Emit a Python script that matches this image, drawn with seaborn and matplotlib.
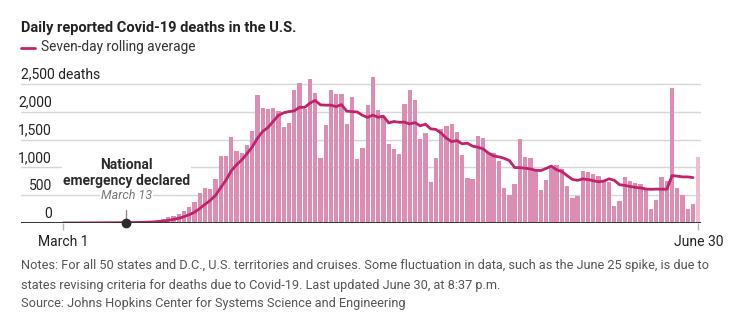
import matplotlib
matplotlib.use("Agg")
import matplotlib.pyplot as plt
import matplotlib.transforms as mtransforms
from matplotlib.lines import Line2D
from matplotlib import font_manager
import seaborn as sns
import numpy as np
import pandas as pd

# ---------------- data ----------------
day_index = list(range(122))  # 0 = March 1, 121 = June 30
daily_deaths = [
    1, 1, 2, 3, 3, 4, 5, 6, 5, 7,
    8, 9, 10, 12, 15, 20, 25, 40, 55, 80,
    100, 130, 170, 220, 290, 370, 540, 635, 620, 800,
    1210, 1210, 1555, 1290, 1255, 1405, 1655, 2300, 2075, 2045,
    2065, 2008, 1735, 1797, 2392, 2515, 2056, 2590, 2344, 1178,
    1764, 2388, 2328, 2317, 1776, 2265, 1145, 1340, 2125, 2620,
    2038, 1915, 1418, 1322, 1241, 2148, 2386, 2211, 1508, 1625,
    735, 1165, 1690, 1745, 1780, 1635, 1220, 810, 790, 1565,
    1525, 1265, 1260, 1110, 630, 500, 697, 1505, 1193, 1172,
    935, 600, 770, 990, 1036, 965, 673, 450, 490, 943,
    916, 883, 838, 760, 730, 300, 390, 835, 750, 718,
    694, 595, 258, 420, 823, 751, 2422, 631, 498, 258,
    336, 1180,
]
rolling_avg = [
    1, 1, 1.3, 1.8, 2, 2.3, 2.7, 3.4, 4, 4.7,
    5.4, 6.3, 7.1, 8.1, 9.4, 11.6, 14.1, 18.7, 25.3, 35.3,
    47.9, 64.3, 85.7, 113.6, 149.3, 194.3, 260, 336.4, 406.4, 496.4,
    637.9, 769.3, 938.6, 1045.7, 1134.3, 1246.4, 1368.6, 1524.3, 1647.9, 1717.9,
    1828.6, 1936.1, 1983.3, 2003.6, 2016.7, 2079.6, 2081.1, 2156.1, 2204.1, 2124.6,
    2119.9, 2119.3, 2092.6, 2129.9, 2013.6, 2002.3, 1997.6, 1937, 1899.4, 1941.1,
    1901.3, 1921.1, 1800.1, 1825.4, 1811.3, 1814.6, 1781.1, 1805.9, 1747.7, 1777.3,
    1693.4, 1682.6, 1617.1, 1525.6, 1464, 1482.1, 1424.3, 1435, 1381.4, 1363.6,
    1332.1, 1258.6, 1205, 1189.3, 1163.6, 1122.1, 998.1, 995.3, 985, 972.4,
    947.4, 943.1, 981.7, 1023.6, 956.6, 924, 852.7, 783.4, 767.7, 792.4,
    781.9, 760, 741.9, 754.3, 794.3, 767.1, 688.1, 676.6, 657.6, 640.4,
    631, 611.7, 605.7, 610, 608.3, 608.4, 851.9, 842.9, 829, 829,
    817,
]
y_ticks = [0, 500, 1000, 1500, 2000, 2500]
y_tick_labels = ["0", "500", "1,000", "1,500", "2,000", "2,500 deaths"]
x_tick_days = [0, 121]
x_tick_labels = ["March 1", "June 30"]
event_day = 12
event_title = "National\nemergency declared"
event_date = "March 13"

title = "Daily reported Covid-19 deaths in the U.S."
legend_label = "Seven-day rolling average"
notes = [
    "Notes: For all 50 states and D.C., U.S. territories and cruises. Some fluctuation in data, such as the June 25 spike, is due to",
    "states revising criteria for deaths due to Covid-19. Last updated June 30, at 8:37 p.m.",
    "Source: Johns Hopkins Center for Systems Science and Engineering",
]

# ---------------- style ----------------
sns.set_theme(style="white")
names = {f.name for f in font_manager.fontManager.ttflist}
main_font = "Liberation Sans Narrow" if "Liberation Sans Narrow" in names else "Roboto"
plt.rcParams["font.family"] = [main_font, "DejaVu Sans"]

BAR = "#db8db3"
BAR_LAST = "#edbdd3"
LINE = "#c2216e"
GRID = "#d6d6d6"
TXT = "#222222"

W, H = 731, 322
fig = plt.figure(figsize=(W / 100, H / 100), dpi=100)

px_per_day = 5.248
x0_px, x1_px = 21, 701
day0_px = 63.3
base_px = 223.0
px_per_unit = 139.0 / 2500
ytop = 2700
ax_h_px = ytop * px_per_unit
ax = fig.add_axes([x0_px / W, (H - base_px) / H, (x1_px - x0_px) / W, ax_h_px / H])

df = pd.DataFrame({"day": day_index, "deaths": daily_deaths})
sns.barplot(data=df, x="day", y="deaths", color=BAR, saturation=1, width=0.82,
            linewidth=0, ax=ax, zorder=2)
ax.patches[-1].set_facecolor(BAR_LAST)

line_df = pd.DataFrame({"day": day_index[:len(rolling_avg)], "avg": rolling_avg})
sns.lineplot(data=line_df, x="day", y="avg", color=LINE, linewidth=2, ax=ax, zorder=4)

xl = -(day0_px - x0_px) / px_per_day
xr = 121 + (x1_px - (day0_px + 121 * px_per_day)) / px_per_day
ax.set_xlim(xl, xr)
ax.set_ylim(0, ytop)
for s in ax.spines.values():
    s.set_visible(False)
ax.set_xlabel("")
ax.set_ylabel("")
ax.set_yticks([])
for v in y_ticks[1:]:
    ax.axhline(v, color=GRID, lw=1, zorder=0)
ax.axhline(0, color="#333333", lw=1.4, zorder=5)

ax.set_xticks(x_tick_days)
ax.set_xticklabels(x_tick_labels)
ax.tick_params(axis="x", length=5, width=1, color="#b5b5b5", pad=4,
               labelsize=10, labelcolor=TXT, bottom=True)

# y labels
lab_x = xl + (52 - x0_px) / px_per_day
off = 2.5 / px_per_unit
for v, lab in zip(y_ticks, y_tick_labels):
    if "deaths" in lab:
        ax.text(0, v + off, lab, transform=mtransforms.blended_transform_factory(ax.transAxes, ax.transData),
                ha="left", va="bottom", fontsize=10, color=TXT)
    else:
        ax.text(lab_x, v + off, lab, ha="right", va="bottom", fontsize=10, color=TXT)

# event annotation
ax.plot([event_day, event_day], [0, 13 / px_per_unit], color="#8a8a8a", lw=1, zorder=6)
ax.plot([event_day], [0], marker="o", markersize=6, color="#2b2b2b", zorder=7, clip_on=False)
ax.text(event_day, (base_px - 173) / px_per_unit, event_title, ha="center", va="center",
        fontsize=10, fontweight="bold", color="#2b2b2b", linespacing=1.1, zorder=8,
        bbox=dict(facecolor="white", edgecolor="none", pad=0.5))
ax.text(event_day, (base_px - 195.5) / px_per_unit, event_date, ha="center", va="center",
        fontsize=9, style="italic", color="#777777", zorder=8,
        bbox=dict(facecolor="white", edgecolor="none", pad=0.5))

# title, legend, notes
fig.text(21 / W, 1 - 28 / H, title, ha="left", va="center", fontsize=10.5,
         fontweight="bold", color=TXT)
fig.add_artist(Line2D([21 / W, 35 / W], [1 - 47.5 / H] * 2, color=LINE, lw=2))
fig.text(41 / W, 1 - 47.5 / H, legend_label, ha="left", va="center", fontsize=9.8, color="#333333")
for i, ln in enumerate(notes):
    fig.text(21 / W, 1 - (266 + 19 * i) / H, ln, ha="left", va="center", fontsize=9.15, color="#555555")

fig.savefig("out.png", dpi=100)
